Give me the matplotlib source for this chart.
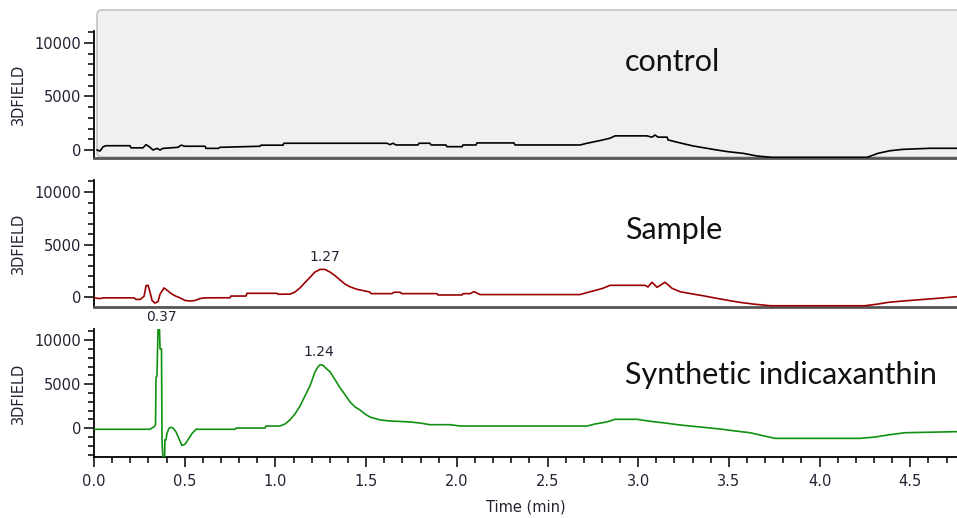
"""Three stacked HPLC traces (3DFIELD vs time): control, sample, synthetic indicaxanthin."""

import matplotlib
import matplotlib.pyplot as plt
import numpy as np
from matplotlib.patches import FancyBboxPatch
from matplotlib.ticker import FuncFormatter, MultipleLocator

matplotlib.use("Agg")
plt.rcParams["font.family"] = ["DejaVu Sans"]

# ------------------------------------------------------------------ #
# Data (time in min, signal in 3DFIELD units)
# ------------------------------------------------------------------ #

control_t = [0.017, 0.033, 0.050, 0.066, 0.198, 0.204, 0.270, 0.287, 0.309, 0.325,
             0.347, 0.364, 0.380, 0.463, 0.480, 0.502, 0.612, 0.617, 0.684, 0.695,
             0.915, 0.921, 1.042, 1.047, 1.615, 1.632, 1.648, 1.665, 1.687, 1.786,
             1.792, 1.852, 1.858, 1.940, 1.946, 2.029, 2.034, 2.106, 2.111, 2.315,
             2.321, 2.679, 2.718, 2.789, 2.845, 2.872, 3.048, 3.076, 3.093, 3.109,
             3.159, 3.165, 3.231, 3.302, 3.412, 3.495, 3.578, 3.655, 3.738, 4.261,
             4.322, 4.388, 4.460, 4.609, 4.757]
control_v = [0, -100, 300, 400, 400, 200, 200, 500, 250, 0,
             150, 0, 150, 250, 450, 350, 350, 150, 150, 250,
             350, 450, 450, 630, 630, 500, 630, 470, 470, 470,
             630, 630, 470, 470, 310, 310, 470, 470, 660, 660,
             470, 470, 630, 880, 1100, 1320, 1320, 1200, 1400, 1200,
             1200, 940, 660, 380, 60, -160, -310, -560, -690, -690,
             -310, -70, 60, 160, 160]

sample_t = [0.0, 0.033, 0.050, 0.220, 0.232, 0.254, 0.276, 0.287, 0.298, 0.309,
            0.320, 0.336, 0.353, 0.364, 0.386, 0.408, 0.430, 0.452, 0.474, 0.502,
            0.529, 0.557, 0.584, 0.612, 0.750, 0.755, 0.838, 0.843, 1.009, 1.014,
            1.080, 1.108, 1.136, 1.163, 1.191, 1.218, 1.246, 1.273, 1.301, 1.329,
            1.356, 1.384, 1.411, 1.450, 1.494, 1.521, 1.527, 1.643, 1.654, 1.687,
            1.698, 1.891, 1.896, 2.029, 2.034, 2.073, 2.095, 2.117, 2.128, 2.679,
            2.718, 2.762, 2.806, 2.845, 3.037, 3.054, 3.076, 3.104, 3.148, 3.186,
            3.231, 3.302, 3.357, 3.434, 3.506, 3.561, 3.633, 3.727, 4.250, 4.322,
            4.377, 4.460, 4.625, 4.757]
sample_v = [-50, -120, -50, -50, -200, -200, 100, 1100, 1140, 500,
            -300, -550, -400, 300, 890, 600, 300, 100, -50, -300,
            -350, -300, -120, -50, -40, 120, 120, 380, 380, 290,
            300, 500, 900, 1400, 1900, 2400, 2650, 2650, 2400, 2050,
            1650, 1250, 1000, 760, 600, 500, 350, 350, 480, 480,
            350, 350, 220, 220, 350, 350, 540, 350, 260, 260,
            450, 650, 860, 1140, 1140, 980, 1430, 950, 1430, 860,
            530, 310, 150, -100, -320, -480, -640, -800, -800, -640,
            -480, -350, -130, 60]

synth_t = [0.0, 0.309, 0.320, 0.331, 0.339, 0.342, 0.347, 0.353, 0.361, 0.364,
           0.372, 0.375, 0.380, 0.389, 0.391, 0.397, 0.402, 0.413, 0.424, 0.435,
           0.452, 0.469, 0.485, 0.502, 0.518, 0.540, 0.562, 0.777, 0.783, 0.943,
           0.948, 1.025, 1.053, 1.080, 1.108, 1.136, 1.163, 1.191, 1.218, 1.235,
           1.246, 1.262, 1.279, 1.301, 1.329, 1.356, 1.384, 1.411, 1.439, 1.466,
           1.494, 1.521, 1.577, 1.632, 1.742, 1.797, 1.852, 1.963, 2.018, 2.718,
           2.762, 2.828, 2.872, 2.993, 3.065, 3.148, 3.231, 3.341, 3.451, 3.534,
           3.616, 3.754, 4.223, 4.305, 4.388, 4.471, 4.757]
synth_v = [-110, -110, 50, 150, 400, 5800, 5900, 11200, 11200, 9000,
           9000, -1300, -3500, -3500, -1300, -1300, -600, 0, 110, 50,
           -400, -1200, -1950, -1800, -1300, -600, -110, -110, 30, 30,
           260, 260, 490, 950, 1630, 2530, 3670, 4810, 6400, 6970,
           7200, 7150, 6800, 6400, 5500, 4600, 3800, 3000, 2420, 2080,
           1620, 1280, 950, 830, 720, 600, 410, 410, 260, 260,
           490, 720, 1020, 1020, 800, 600, 375, 150, -80, -300,
           -500, -1140, -1140, -990, -720, -500, -380]

panel_names = ["control", "Sample", "Synthetic indicaxanthin"]
trace_colours = ["#000000", "#9b0000", "#119111"]

# (panel index, label)
peak_labels = [(1, "1.27"), (2, "0.37"), (2, "1.24")]

# ------------------------------------------------------------------ #
# Figure
# ------------------------------------------------------------------ #

W, H = 957, 518
fig = plt.figure(figsize=(W / 100, H / 100), dpi=100)

# gray rounded box behind the control panel (inches == px/100)
box = FancyBboxPatch((0.97, (H - 157) / 100), 9.2, 1.47,
                     boxstyle="round,pad=0,rounding_size=0.05",
                     transform=fig.dpi_scale_trans, facecolor="#f0f0f0",
                     edgecolor="#c4c4c4", linewidth=1.2, zorder=-10)
fig.patches.append(box)

# axes rectangles in pixels: (top, bottom), ylim
panels = [
    ((31, 158), (-748, 11120)),
    ((180, 307), (-920, 11140)),
    ((329, 457), (-3250, 11250)),
]
x0 = 94
series = [(control_t, control_v), (sample_t, sample_v), (synth_t, synth_v)]
text_y = [62, 230, 375]

axes = []
for i, ((top, bot), ylim) in enumerate(panels):
    ax = fig.add_axes([x0 / W, 1 - bot / H, 1 - x0 / W, (bot - top) / H])
    ax.set_facecolor("none")
    t, v = series[i]
    ax.plot(t, v, color=trace_colours[i], lw=1.2, zorder=3)
    ax.set_xlim(0, (W - x0) / 181.4)
    ax.set_ylim(*ylim)

    ax.yaxis.set_major_locator(MultipleLocator(5000))
    ax.yaxis.set_minor_locator(MultipleLocator(1000))
    ax.xaxis.set_major_locator(MultipleLocator(0.5))
    ax.xaxis.set_minor_locator(MultipleLocator(0.1))
    ax.yaxis.set_major_formatter(FuncFormatter(lambda y, _: f"{y:.0f}"))
    ax.xaxis.set_major_formatter(FuncFormatter(lambda x, _: f"{x:.1f}"))
    ax.tick_params(axis="both", which="major", length=7, width=1.1,
                   labelsize=10.5, labelcolor="#222233", pad=2)
    ax.tick_params(axis="x", which="major", pad=5)
    ax.tick_params(axis="both", which="minor", length=4.5, width=1.1)

    for side in ("top", "right"):
        ax.spines[side].set_visible(False)
    ax.spines["left"].set_linewidth(1.3)
    ax.set_ylabel("3DFIELD", fontsize=10.5, color="#222233", labelpad=6)

    if i < 2:
        ax.tick_params(axis="x", which="both", bottom=False, labelbottom=False)
        ax.spines["bottom"].set_color("#555555")
        ax.spines["bottom"].set_linewidth(2)
    else:
        ax.spines["bottom"].set_linewidth(1.3)
        ax.set_xlabel("Time (min)", fontsize=10.5, color="#222233", labelpad=8)

    fig.text(625 / W, 1 - text_y[i] / H, panel_names[i], family="Lato",
             fontsize=22, ha="left", va="center", color="#111111")
    axes.append(ax)

fig.align_ylabels(axes)

for idx, label in peak_labels:
    ax = axes[idx]
    t = np.asarray(series[idx][0])
    v = np.asarray(series[idx][1])
    pt = float(label)
    peak = v[np.abs(t - pt) < 0.03].max()
    ax.annotate(label, xy=(pt, peak), xytext=(0, 9), textcoords="offset points",
                ha="center", va="center", fontsize=10, color="#222233",
                annotation_clip=False)

fig.savefig("out.png", dpi=100)
